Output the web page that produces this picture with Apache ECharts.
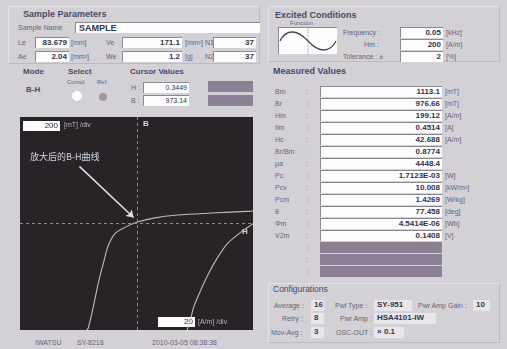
<!DOCTYPE html>
<html>
<head>
<meta charset="utf-8">
<script src="https://cdn.jsdelivr.net/npm/echarts@6/dist/echarts.min.js"></script>
<style>
  body { margin: 0; width: 507px; height: 349px; background: #d3d1d6; overflow: hidden;
         font-family: 'Liberation Sans', Arial, sans-serif; position: relative; }
  .a { position: absolute; white-space: nowrap; line-height: 1; }
  .lbl { font-size: 7px; color: #66647a; }
  .hdr { font-size: 9px; font-weight: bold; color: #4a4966; }
  .box { position: absolute; background: #fdfdfd; border-top: 1px solid #8a8890; border-left: 1px solid #8a8890;
         box-sizing: border-box; font-size: 8px; font-weight: bold; color: #33334a; text-align: right;
         padding-right: 2px; line-height: 10px; }
  .bar { position: absolute; background: #8c8194; }
  .panel { position: absolute; border: 1px solid #e4e2e6; border-right-color: #bcbac0; border-bottom-color: #bcbac0; box-sizing: border-box; }
  #plot { position: absolute; left: 20px; top: 117px; width: 233px; height: 213px; background: #272326; }
</style>
</head>
<body>
<div class="panel" style="left:8px;top:6px;width:252px;height:58px"></div>
<div class="panel" style="left:268px;top:6px;width:232px;height:56px"></div>
<div class="panel" style="left:268px;top:283px;width:232px;height:60px"></div>
<div id="ui"></div>
<div id="plot"></div>
<script>
// --- B-H loop (enlarged view), H in A/m, B in mT ---
const upperH = [100, 98.3, 63.8, 35.3, 14.7, 0.9, -9.5, -18.1, -24.1, -28.4, -32.8, -37.1, -41.4, -42.7]
const upperB = [1087, 1083, 1065, 1047, 1019, 983, 937, 883, 774, 610, 428, 209, 18, 0]
const lowerH = [43.5, 46.6, 49.1, 55.2, 62.1, 69.8, 78.4, 89.7, 98.3, 100]
const lowerB = [0, 109, 209, 364, 519, 664, 792, 892, 955, 968]
const cursorH = 0.3449
const cursorB = 973.14
const arrowH = [-49, -2.5]
const arrowB = [1490, 1025]

// --- measured values ---
const mLabels = ['Bm', 'Br', 'Hm', 'Ilm', 'Hc', 'Br/Bm', 'μa', 'Pc', 'Pcv', 'Pcm', 'θ', 'Φm', 'V2m']
const mValues = ['1113.1', '976.66', '199.12', '0.4514', '42.688', '0.8774', '4448.4', '1.7123E-03', '10.008', '1.4269', '77.458', '4.5414E-06', '0.1408']
const mUnits = ['[mT]', '[mT]', '[A/m]', '[A]', '[A/m]', '', '', '[W]', '[kW/m³]', '[W/kg]', '[deg]', '[Wb]', '[V]']

const ui = document.getElementById('ui')
function txt(s, x, y, cls, extra) {
  const e = document.createElement('div')
  e.className = 'a ' + cls
  e.textContent = s
  e.style.left = x + 'px'
  e.style.top = y + 'px'
  if (extra) Object.assign(e.style, extra)
  ui.appendChild(e)
  return e
}
function box(s, x, y, w, h, extra) {
  const e = document.createElement('div')
  e.className = 'box'
  e.textContent = s
  Object.assign(e.style, { left: x + 'px', top: y + 'px', width: w + 'px', height: h + 'px' }, extra || {})
  ui.appendChild(e)
}
function bar(x, y, w, h) {
  const e = document.createElement('div')
  e.className = 'bar'
  Object.assign(e.style, { left: x + 'px', top: y + 'px', width: w + 'px', height: h + 'px' })
  ui.appendChild(e)
}
const flat = { background: '#e8e6ea', border: 'none', textAlign: 'left', paddingLeft: '3px' }

// sample parameters
txt('Sample Parameters', 23, 10, 'hdr')
txt('Sample Name', 18, 24, 'lbl')
box('SAMPLE', 75, 22, 185, 11, { textAlign: 'left', paddingLeft: '3px', fontSize: '9px' })
txt('Le', 18, 39, 'lbl'); box('83.679', 35, 37, 34, 11); txt('[mm]', 71, 39, 'lbl')
txt('Ve', 106, 39, 'lbl'); box('171.1', 122, 37, 60, 11); txt('[mm³]', 185, 39, 'lbl')
txt('N1', 205, 39, 'lbl'); box('37', 213, 37, 43, 11)
txt('Ae', 18, 53, 'lbl'); box('2.04', 35, 51, 34, 11); txt('[mm²]', 71, 53, 'lbl')
txt('We', 106, 53, 'lbl'); box('1.2', 122, 51, 60, 11); txt('[g]', 185, 53, 'lbl')
txt('N2', 205, 53, 'lbl'); box('37', 213, 51, 43, 11)

txt('Mode', 23, 68, 'hdr', { fontSize: '8px' })
txt('B-H', 26, 86, 'hdr', { fontSize: '8px' })
txt('Select', 68, 68, 'hdr', { fontSize: '8px' })
txt('Cursol', 67, 79, 'lbl', { fontSize: '6px' })
txt('Ref.', 97, 79, 'lbl', { fontSize: '6px' })
const c1 = document.createElement('div')
Object.assign(c1.style, { position: 'absolute', left: '72px', top: '91px', width: '10px', height: '10px', borderRadius: '50%', background: '#ffffff' })
ui.appendChild(c1)
const c2 = document.createElement('div')
Object.assign(c2.style, { position: 'absolute', left: '99px', top: '93px', width: '8px', height: '8px', borderRadius: '50%', background: '#9c97a0' })
ui.appendChild(c2)
txt('Cursor Values', 130, 68, 'hdr', { fontSize: '8px' })
txt('H :', 131, 84, 'lbl')
box('0.3449', 143, 82, 46, 11, { fontWeight: 'normal', fontSize: '7px' })
txt('B :', 131, 97, 'lbl')
box('973.14', 143, 95, 46, 11, { fontWeight: 'normal', fontSize: '7px' })
bar(208, 81, 45, 11)
bar(208, 95, 45, 11)

// excited conditions
txt('Excited Conditions', 275, 11, 'hdr')
txt('Function', 290, 20, 'lbl', { fontSize: '6px' })
const fn = document.createElement('div')
fn.style.cssText = 'position:absolute;left:278px;top:27px;width:58px;height:26px;background:#fdfdfd;border-top:1px solid #8a8890;border-left:1px solid #8a8890'
fn.innerHTML = '<svg width="58" height="26"><line x1="29" y1="0" x2="29" y2="26" stroke="#c8c6cc"/>' +
  '<path d="M1,13 C7,1 18,1 29,13 S51,25 57,13" fill="none" stroke="#4a4858" stroke-width="1.3"/></svg>'
ui.appendChild(fn)
txt('Frequency :', 343, 29, 'lbl'); box('0.05', 400, 27, 43, 11); txt('[kHz]', 446, 29, 'lbl')
txt('Hm :', 364, 41, 'lbl'); box('200', 400, 39, 43, 11); txt('[A/m]', 446, 41, 'lbl')
txt('Tolerance : ±', 343, 53, 'lbl'); box('2', 400, 51, 43, 11); txt('[%]', 446, 53, 'lbl')

// measured values
txt('Measured Values', 273, 67, 'hdr')
for (let i = 0; i < 16; i++) {
  const y = 86 + i * 12
  if (i < mLabels.length) {
    txt(mLabels[i], 275, y + 2, 'lbl')
    txt(':', i === 5 ? 303 : 306, y + 2, 'lbl')
    box(mValues[i], 320, y, 122, 11)
    txt(mUnits[i], 445, y + 2, 'lbl')
  } else {
    txt(':', 306, y + 2, 'lbl')
    bar(320, y, 122, 11)
  }
}

// configurations
txt('Configurations', 273, 285, 'hdr', { fontWeight: 'normal', fontSize: '8.5px' })
txt('Average :', 274, 302, 'lbl'); box('16', 311, 300, 13, 11, flat)
txt('Pwl Type :', 335, 302, 'lbl'); box('SY-951', 374, 300, 38, 11, flat)
txt('Pwr Amp Gain :', 418, 302, 'lbl'); box('10', 473, 300, 17, 11, flat)
txt('Retry :', 282, 315, 'lbl'); box('8', 311, 313, 13, 11, flat)
txt('Pwr Amp :', 340, 315, 'lbl'); box('HSA4101-IW', 374, 313, 62, 11, flat)
txt('Mov-Avg :', 271, 329, 'lbl'); box('3', 311, 327, 13, 11, flat)
txt('OSC-OUT :', 336, 329, 'lbl'); box('× 0.1', 374, 327, 30, 11, flat)

// footer
txt('IWATSU', 35, 339, 'lbl')
txt('SY-8218', 77, 339, 'lbl')
txt('2010-03-05 08:38:38', 152, 339, 'lbl')

// --- plot ---
const chart = echarts.init(document.getElementById('plot'))
const curveStyle = { color: '#cfcbc6', width: 1.1, opacity: 0.9 }
chart.setOption({
  backgroundColor: '#272326',
  animation: false,
  grid: { left: 0, right: 0, top: 0, bottom: 0 },
  xAxis: { type: 'value', min: -100, max: 100, show: false },
  yAxis: { type: 'value', min: 0, max: 1940, show: false },
  graphic: [
    { type: 'text', x: 123, y: 3, style: { text: 'B', fill: '#d8d4d8', font: 'bold 8px Liberation Sans' } },
    { type: 'text', x: 222, y: 111, style: { text: 'H', fill: '#d8d4d8', font: 'bold 8px Liberation Sans' } },
    { type: 'text', x: 10, y: 35, style: { text: '放大后的B-H曲线', fill: '#cfd6e4', font: '9px "Noto Sans CJK SC"' } },
    { type: 'rect', shape: { x: 3, y: 4, width: 37, height: 10 }, style: { fill: '#fdfdfd' } },
    { type: 'text', x: 38, y: 5, style: { text: '200', fill: '#2a2a38', font: '8px Liberation Sans', align: 'right' } },
    { type: 'text', x: 44, y: 5, style: { text: '[mT] /div', fill: '#b8b4bc', font: '7px Liberation Sans' } },
    { type: 'rect', shape: { x: 138, y: 200, width: 37, height: 10 }, style: { fill: '#fdfdfd' } },
    { type: 'text', x: 173, y: 201, style: { text: '20', fill: '#2a2a38', font: '8px Liberation Sans', align: 'right' } },
    { type: 'text', x: 178, y: 202, style: { text: '[A/m] /div', fill: '#b8b4bc', font: '7px Liberation Sans' } }
  ],
  series: [
    {
      type: 'line',
      data: upperH.map((h, i) => [h, upperB[i]]),
      smooth: 0.3,
      showSymbol: false,
      lineStyle: curveStyle,
      markLine: {
        silent: true,
        symbol: 'none',
        label: { show: false },
        lineStyle: { color: '#8e8a90', width: 1, type: [3, 3] },
        data: [{ xAxis: cursorH }, { yAxis: cursorB }]
      }
    },
    {
      type: 'line',
      data: lowerH.map((h, i) => [h, lowerB[i]]),
      smooth: 0.2,
      showSymbol: false,
      lineStyle: curveStyle,
      markLine: {
        silent: true,
        symbol: ['none', 'arrow'],
        symbolSize: 7,
        label: { show: false },
        lineStyle: { color: '#e2dfe4', width: 1.5, type: 'solid' },
        data: [[{ coord: [arrowH[0], arrowB[0]] }, { coord: [arrowH[1], arrowB[1]] }]]
      }
    }
  ]
})
</script>
</body>
</html>
